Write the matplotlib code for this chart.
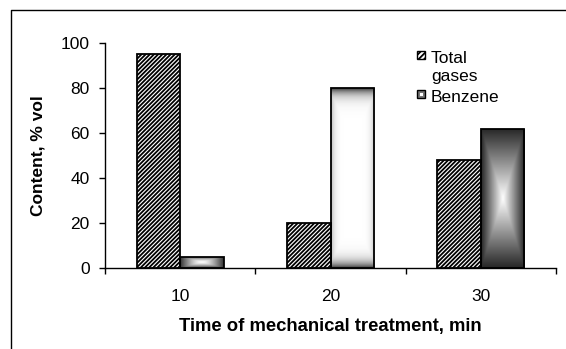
import numpy as np
import matplotlib
matplotlib.use('Agg')
import matplotlib.pyplot as plt
from matplotlib.patches import Rectangle
from matplotlib.lines import Line2D

# data
times = ['10', '20', '30']
total_gases = [95, 20, 48]
benzene = [5, 80, 62]
yticks = [0, 20, 40, 60, 80, 100]

plt.rcParams['font.family'] = ['Liberation Sans', 'DejaVu Sans']
plt.rcParams['font.size'] = 12.5
plt.rcParams['hatch.linewidth'] = 1.3


def shade(bar, ax, kind):
    '''fill one bar with a grey "from centre" gradient'''
    b = bar.get_bbox()
    u, v = np.meshgrid(np.linspace(-1, 1, 60), np.linspace(-1, 1, 200))
    if kind == 'soft':
        d = 0.8 * np.maximum(np.abs(u), np.abs(v)) ** 1.4
    elif kind == 'edge':
        d = np.maximum(0.25 * np.abs(u) ** 6, 0.75 * np.abs(v) ** 14)
    else:
        d = 0.85 * np.maximum(np.abs(u), np.abs(v)) ** 1.0
    img = ax.imshow(1 - d, cmap='gray', vmin=0, vmax=1, aspect='auto',
                    extent=(b.x0, b.x1, b.y0, b.y1), origin='lower',
                    interpolation='bicubic', zorder=2)
    img.set_clip_path(bar)


fig = plt.figure(figsize=(5.66, 3.49), dpi=100)
ax = fig.add_axes([105 / 566, 1 - 268 / 349, 451 / 566, 225 / 349])

x = np.arange(len(times))
w = 0.29
ax.bar(x - w / 2, total_gases, w, facecolor='white', edgecolor='black',
       hatch='////////', linewidth=1.3, zorder=3)
bars = ax.bar(x + w / 2, benzene, w, facecolor='none', edgecolor='black',
              linewidth=1.3, zorder=3)
for bar, kind in zip(bars, ['soft', 'edge', 'hard']):
    shade(bar, ax, kind)

ax.set_xlim(-0.5, len(times) - 0.5)
ax.set_ylim(0, 100)
ax.set_yticks(yticks)
ax.tick_params(axis='y', direction='out', length=4, width=1, pad=7)
ax.set_xticks(np.arange(len(times) + 1) - 0.5)
ax.set_xticklabels([])
ax.set_xticks(x, minor=True)
ax.set_xticklabels(times, minor=True)
ax.tick_params(axis='x', which='major', direction='out', length=4, width=1)
ax.tick_params(axis='x', which='minor', length=0, pad=15)
for s in ['top', 'right']:
    ax.spines[s].set_visible(False)
ax.spines['left'].set_linewidth(1)
ax.spines['bottom'].set_linewidth(1)

ax.set_ylabel('Content, % vol', fontweight='bold', labelpad=11)
ax.set_xlabel('Time of mechanical treatment, min', fontweight='bold',
              fontsize=13.3, labelpad=10)

# legend drawn by hand: marker lines up with the first text line
px = lambda a, b: (a / 566, 1 - b / 349)
fig.patches.append(Rectangle(px(417, 59), 8 / 566, 8 / 349,
                             transform=fig.transFigure, facecolor='white',
                             edgecolor='black', hatch='//////', lw=1))
fig.patches.append(Rectangle(px(417, 98), 8 / 566, 8 / 349,
                             transform=fig.transFigure, facecolor='#777777',
                             edgecolor='black', lw=1))
fig.patches.append(Rectangle(px(419.5, 95.5), 3 / 566, 3 / 349,
                             transform=fig.transFigure, facecolor='white',
                             edgecolor='none'))
fig.text(*px(431, 63), 'Total', ha='left', va='baseline')
fig.text(*px(431, 81), 'gases', ha='left', va='baseline')
fig.text(*px(431, 102), 'Benzene', ha='left', va='baseline')

# frame of the original picture (left and top only)
fig.add_artist(Line2D([11 / 566, 11 / 566, 1], [0, 1 - 10 / 349, 1 - 10 / 349],
                      transform=fig.transFigure, color='black', lw=1))

fig.savefig('out.png', dpi=100)
